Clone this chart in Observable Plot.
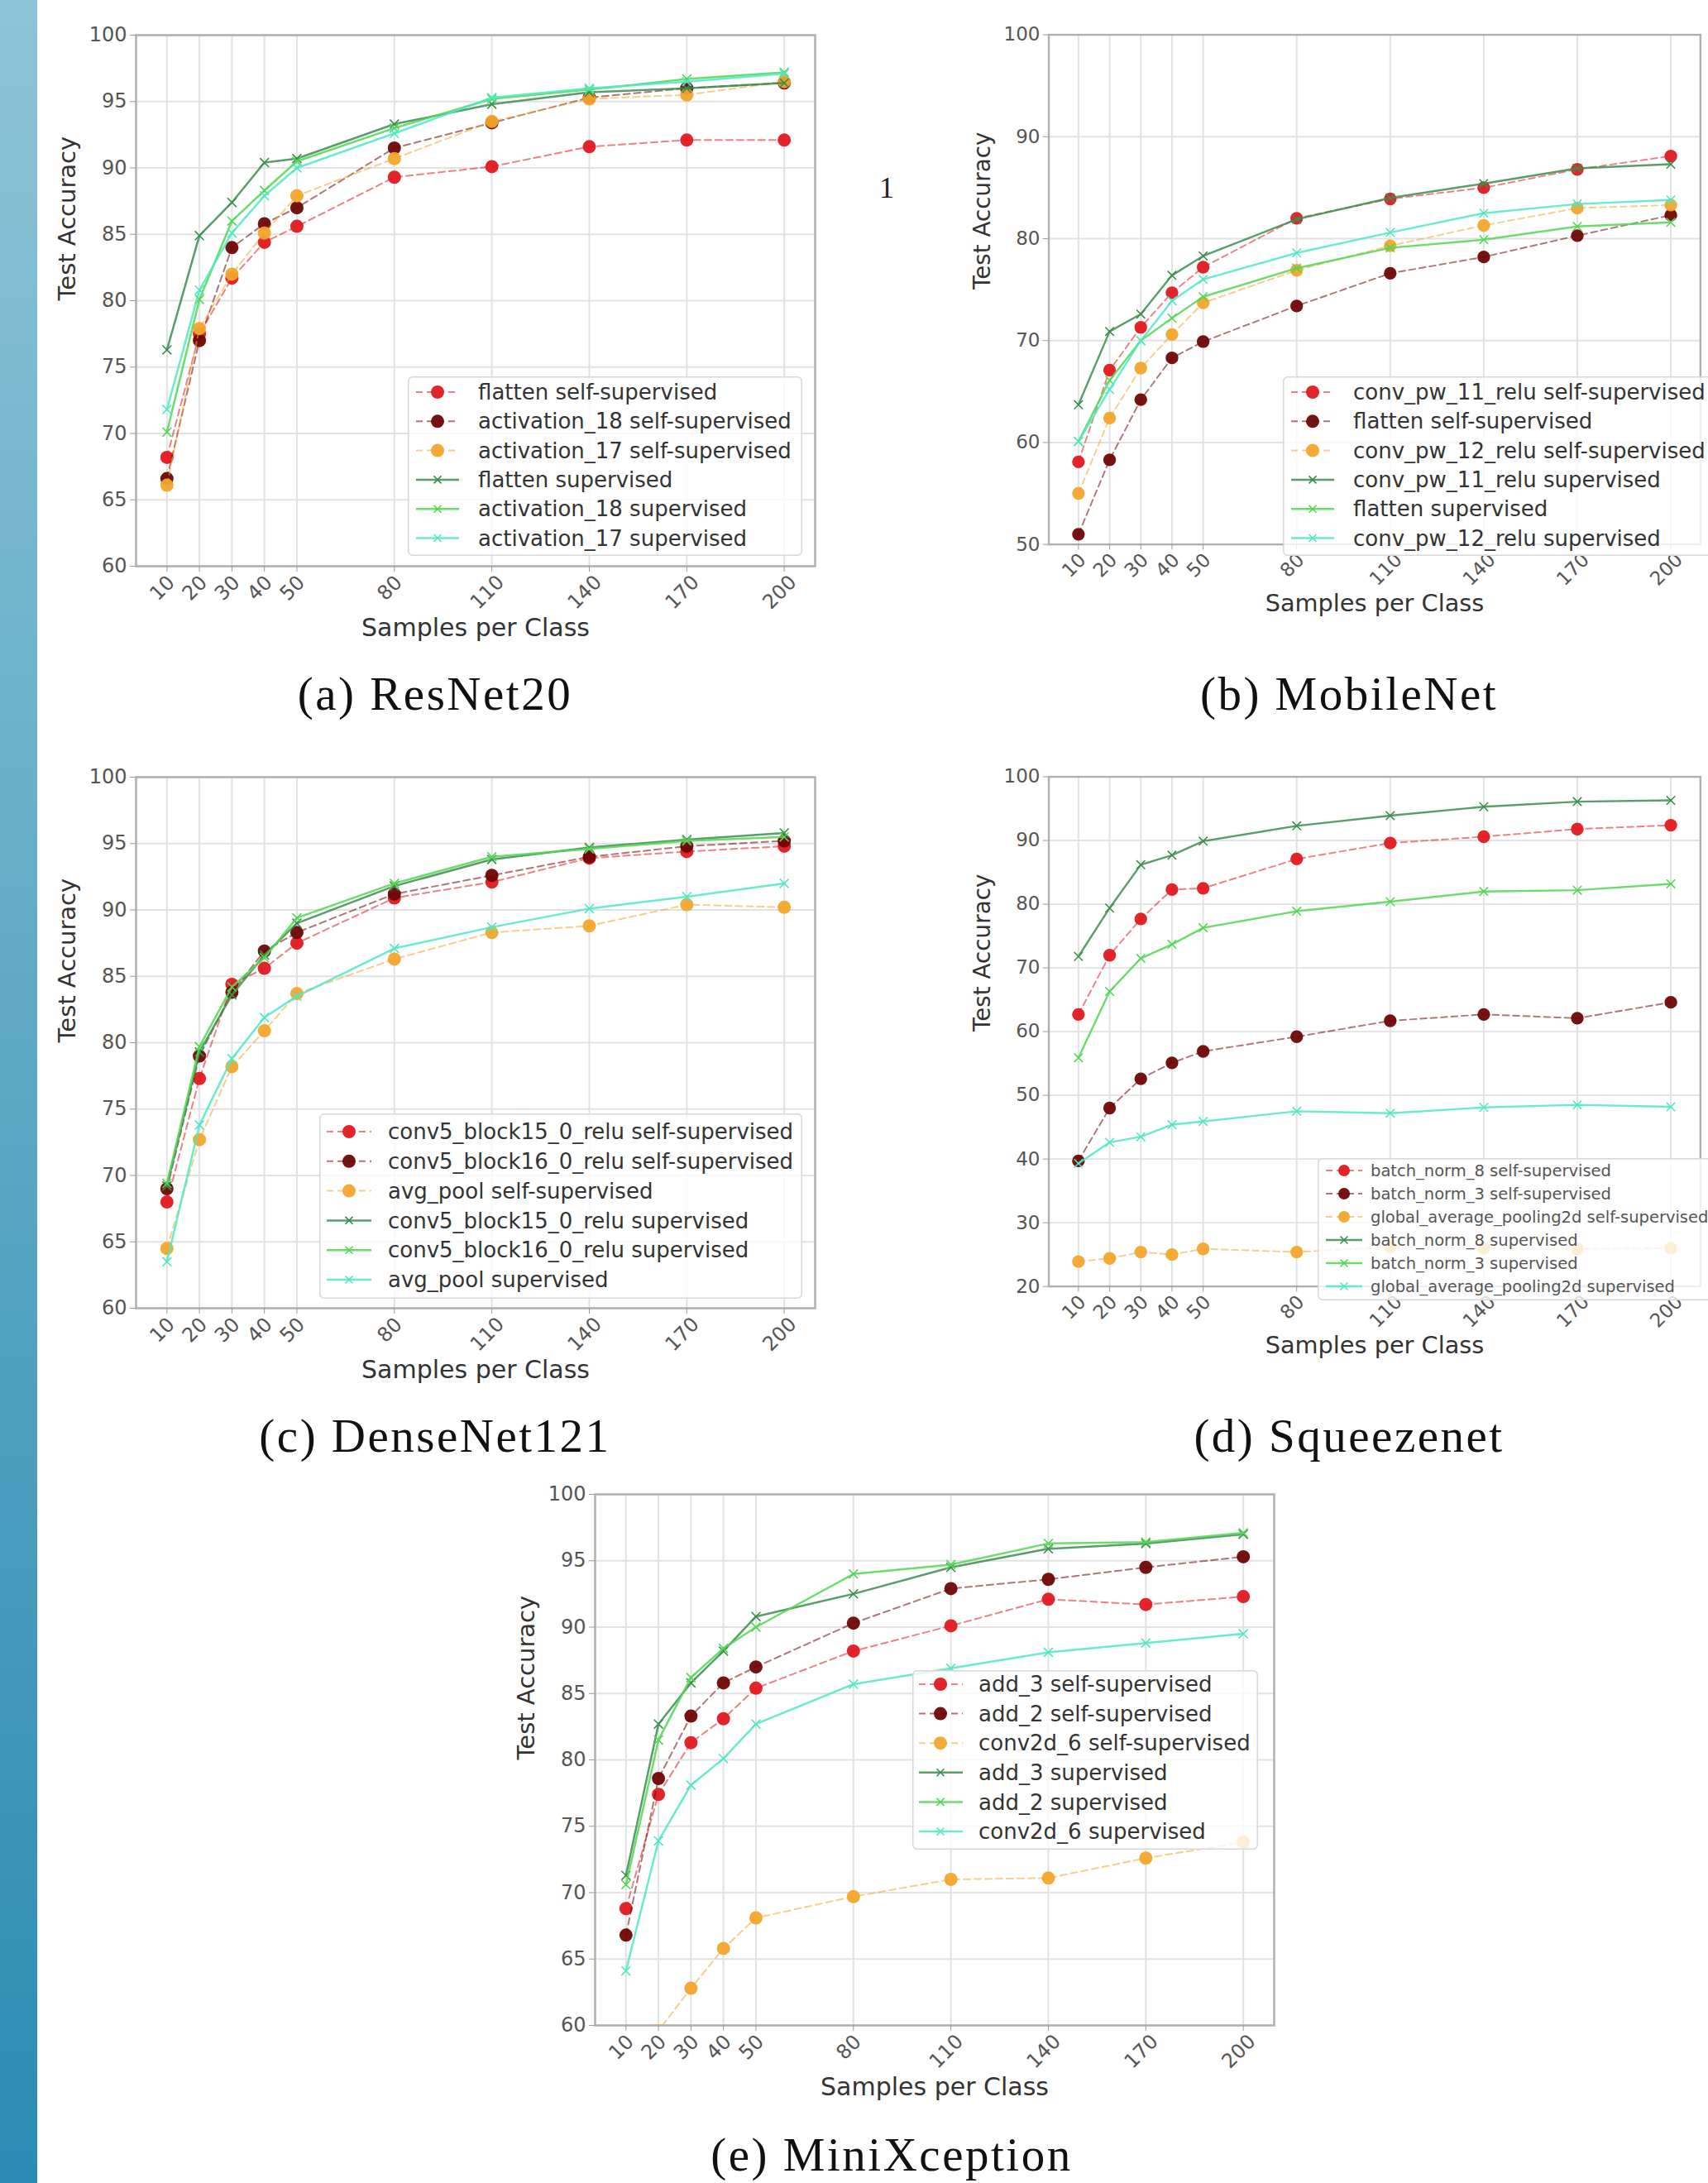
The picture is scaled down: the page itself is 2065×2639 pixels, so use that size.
<!DOCTYPE html>
<html><head><meta charset="utf-8">
<script src="https://cdn.jsdelivr.net/npm/d3@7"></script>
<script src="https://cdn.jsdelivr.net/npm/@observablehq/plot@0.6"></script>
<style>
html,body{margin:0;padding:0;background:#fff;}
#fig{position:relative;width:2065px;height:2639px;overflow:hidden;background:#fff;font-family:"DejaVu Sans",sans-serif;}
.strip{position:absolute;left:0;top:0;width:45px;height:2639px;background:linear-gradient(to bottom,#8dc4d7,#2b8bb2);}
.panel{position:absolute;}
.caption{position:absolute;width:800px;text-align:center;font-family:"Liberation Serif",serif;font-size:57px;letter-spacing:2.5px;line-height:57px;color:#111;white-space:nowrap;}
.pagenum{position:absolute;font-family:"Liberation Serif",serif;font-size:36px;line-height:36px;color:#222;}
</style></head><body><div id="fig"><div class="strip"></div></div>
<script>
// ---------- data ----------
const samples = [10, 20, 30, 40, 50, 80, 110, 140, 170, 200];
const xTickLabels = ["10", "20", "30", "40", "50", "80", "110", "140", "170", "200"];
const yTicks60 = [60, 65, 70, 75, 80, 85, 90, 95, 100];
const yTicks50 = [50, 60, 70, 80, 90, 100];
const yTicks20 = [20, 30, 40, 50, 60, 70, 80, 90, 100];

// (a) ResNet20
const resnetLabels = ["flatten self-supervised", "activation_18 self-supervised", "activation_17 self-supervised",
  "flatten supervised", "activation_18 supervised", "activation_17 supervised"];
const resnetFlattenSelf = [68.2, 77.5, 81.7, 84.4, 85.6, 89.3, 90.1, 91.6, 92.1, 92.1];
const resnetAct18Self = [66.6, 77.0, 84.0, 85.8, 87.0, 91.5, 93.4, 95.3, 96.0, 96.4];
const resnetAct17Self = [66.1, 77.9, 82.0, 85.1, 87.9, 90.7, 93.5, 95.2, 95.5, 96.5];
const resnetFlattenSup = [76.3, 84.9, 87.4, 90.4, 90.7, 93.3, 94.8, 95.7, 96.0, 96.4];
const resnetAct18Sup = [70.1, 80.1, 86.0, 88.3, 90.5, 93.0, 95.2, 95.9, 96.7, 97.2];
const resnetAct17Sup = [71.8, 80.8, 85.1, 87.9, 90.0, 92.6, 95.3, 96.0, 96.5, 97.1];

// (b) MobileNet
const mobileLabels = ["conv_pw_11_relu self-supervised", "flatten self-supervised", "conv_pw_12_relu self-supervised",
  "conv_pw_11_relu supervised", "flatten supervised", "conv_pw_12_relu supervised"];
const mobilePw11Self = [58.1, 67.1, 71.3, 74.7, 77.2, 82.0, 83.9, 85.0, 86.8, 88.1];
const mobileFlattenSelf = [51.0, 58.3, 64.2, 68.3, 69.9, 73.4, 76.6, 78.2, 80.3, 82.3];
const mobilePw12Self = [55.0, 62.4, 67.3, 70.6, 73.7, 76.9, 79.3, 81.3, 83.0, 83.3];
const mobilePw11Sup = [63.7, 70.9, 72.6, 76.4, 78.3, 81.9, 84.0, 85.4, 86.9, 87.3];
const mobileFlattenSup = [60.1, 66.1, 70.0, 72.2, 74.3, 77.1, 79.1, 79.9, 81.2, 81.6];
const mobilePw12Sup = [60.1, 65.2, 70.0, 73.9, 76.0, 78.6, 80.6, 82.5, 83.4, 83.8];

// (c) DenseNet121
const denseLabels = ["conv5_block15_0_relu self-supervised", "conv5_block16_0_relu self-supervised", "avg_pool self-supervised",
  "conv5_block15_0_relu supervised", "conv5_block16_0_relu supervised", "avg_pool supervised"];
const denseB15Self = [68.0, 77.3, 84.4, 85.6, 87.5, 90.9, 92.1, 93.9, 94.4, 94.8];
const denseB16Self = [69.0, 79.0, 83.8, 86.9, 88.3, 91.2, 92.6, 94.0, 94.8, 95.2];
const denseAvgSelf = [64.5, 72.7, 78.2, 80.9, 83.7, 86.3, 88.3, 88.8, 90.4, 90.2];
const denseB15Sup = [69.2, 79.3, 83.6, 86.6, 89.0, 91.8, 93.8, 94.7, 95.3, 95.8];
const denseB16Sup = [69.4, 79.7, 84.2, 86.4, 89.4, 92.0, 94.0, 94.6, 95.2, 95.5];
const denseAvgSup = [63.5, 73.8, 78.8, 81.9, 83.5, 87.1, 88.7, 90.1, 91.0, 92.0];

// (d) Squeezenet
const squeezeLabels = ["batch_norm_8 self-supervised", "batch_norm_3 self-supervised", "global_average_pooling2d self-supervised",
  "batch_norm_8 supervised", "batch_norm_3 supervised", "global_average_pooling2d supervised"];
const squeezeBn8Self = [62.7, 72.0, 77.7, 82.3, 82.5, 87.1, 89.6, 90.6, 91.8, 92.4];
const squeezeBn3Self = [39.7, 48.0, 52.6, 55.1, 56.9, 59.2, 61.7, 62.7, 62.1, 64.6];
const squeezeGapSelf = [23.9, 24.4, 25.4, 25.0, 25.9, 25.4, 26.2, 26.0, 25.9, 26.0];
const squeezeBn8Sup = [71.8, 79.4, 86.2, 87.7, 89.9, 92.3, 93.9, 95.3, 96.1, 96.3];
const squeezeBn3Sup = [55.9, 66.3, 71.5, 73.7, 76.3, 78.9, 80.4, 82.0, 82.2, 83.2];
const squeezeGapSup = [39.3, 42.6, 43.5, 45.4, 45.9, 47.5, 47.2, 48.1, 48.5, 48.2];

// (e) MiniXception
const xceptionLabels = ["add_3 self-supervised", "add_2 self-supervised", "conv2d_6 self-supervised",
  "add_3 supervised", "add_2 supervised", "conv2d_6 supervised"];
const xceptionAdd3Self = [68.8, 77.4, 81.3, 83.1, 85.4, 88.2, 90.1, 92.1, 91.7, 92.3];
const xceptionAdd2Self = [66.8, 78.6, 83.3, 85.8, 87.0, 90.3, 92.9, 93.6, 94.5, 95.3];
const xceptionConvSelf = [55.0, 59.6, 62.8, 65.8, 68.1, 69.7, 71.0, 71.1, 72.6, 73.8];
const xceptionAdd3Sup = [71.3, 82.7, 85.8, 88.2, 90.8, 92.5, 94.5, 95.9, 96.3, 97.0];
const xceptionAdd2Sup = [70.6, 81.5, 86.2, 88.4, 90.0, 94.0, 94.7, 96.3, 96.4, 97.1];
const xceptionConvSup = [64.1, 73.9, 78.1, 80.1, 82.7, 85.7, 86.9, 88.1, 88.8, 89.5];

const captions = ["(a) ResNet20", "(b) MobileNet", "(c) DenseNet121", "(d) Squeezenet", "(e) MiniXception"];
const xLabel = "Samples per Class";
const yLabel = "Test Accuracy";

// ---------- styles ----------
const seriesColors = ["#e0191f", "#6e0505", "#f2a52c", "#3c8d50", "#52d752", "#4fe8c4"];

const panels = [
  {fx: 164, fy: 42, ymin: 60, yTicks: yTicks60, labels: resnetLabels,
   values: [resnetFlattenSelf, resnetAct18Self, resnetAct17Self, resnetFlattenSup, resnetAct18Sup, resnetAct17Sup],
   caption: captions[0], capX: 526, capTop: 810,
   legend: {x: 493, y: 455, w: 477, h: 217, row0: 19, gap: 35.3, fs: 26, h0: 10, h1: 62, mx: 36, tx: 85, color: "#333"}},
  {fx: 1272, fy: 42, ymin: 50, yTicks: yTicks50, labels: mobileLabels,
   values: [mobilePw11Self, mobileFlattenSelf, mobilePw12Self, mobilePw11Sup, mobileFlattenSup, mobilePw12Sup],
   caption: captions[1], capX: 1631, capTop: 810,
   legend: {x: 1551, y: 455, w: 540, h: 217, row0: 19, gap: 35.3, fs: 26, h0: 10, h1: 62, mx: 36, tx: 85, color: "#333"}},
  {fx: 164, fy: 939, ymin: 60, yTicks: yTicks60, labels: denseLabels,
   values: [denseB15Self, denseB16Self, denseAvgSelf, denseB15Sup, denseB16Sup, denseAvgSup],
   caption: captions[2], capX: 526, capTop: 1707,
   legend: {x: 386, y: 1346, w: 584, h: 224, row0: 22, gap: 35.8, fs: 26, h0: 9, h1: 63, mx: 36, tx: 83, color: "#333"}},
  {fx: 1272, fy: 939, ymin: 20, yTicks: yTicks20, labels: squeezeLabels,
   values: [squeezeBn8Self, squeezeBn3Self, squeezeGapSelf, squeezeBn8Sup, squeezeBn3Sup, squeezeGapSup],
   caption: captions[3], capX: 1631, capTop: 1707,
   legend: {x: 1593, y: 1400, w: 520, h: 172, row0: 15, gap: 28, fs: 19.5, h0: 10, h1: 54, mx: 32, tx: 64, color: "#555"}},
  {fx: 719, fy: 1806, ymin: 60, yTicks: yTicks60, labels: xceptionLabels,
   values: [xceptionAdd3Self, xceptionAdd2Self, xceptionConvSelf, xceptionAdd3Sup, xceptionAdd2Sup, xceptionConvSup],
   caption: captions[4], capX: 1078, capTop: 2576,
   legend: {x: 1103, y: 2019, w: 418, h: 217, row0: 17, gap: 35.6, fs: 26, h0: 8, h1: 61, mx: 34, tx: 80, color: "#333"}}
];

const M = {left: 110, top: 10, right: 10, bottom: 110};
const FW = 821, FH = 642;
const fig = document.getElementById("fig");

const xTicks = samples.map((s, i) => ({v: s, label: xTickLabels[i]}));

function buildPanel(p) {
  const marks = [
    Plot.gridX(samples, {stroke: "#e2e2e2", strokeOpacity: 1, strokeWidth: 2}),
    Plot.gridY(p.yTicks, {stroke: "#e2e2e2", strokeOpacity: 1, strokeWidth: 2}),
    Plot.frame({stroke: "#b0b0b0", strokeWidth: 2.5}),
    Plot.axisY(p.yTicks, {tickSize: 7, tickPadding: 4, fontSize: 24, stroke: "#999", fill: "#555", label: null, tickFormat: d => String(d)}),
    Plot.axisX(samples, {tickSize: 7, stroke: "#999", tickFormat: () => "", label: null}),
    Plot.text(xTicks.filter(d => d.label.length < 3), {x: "v", text: "label", frameAnchor: "bottom", dy: 32, rotate: -45, fontSize: 24, fill: "#555"}),
    Plot.text(xTicks.filter(d => d.label.length >= 3), {x: "v", text: "label", frameAnchor: "bottom", dy: 37, rotate: -45, fontSize: 24, fill: "#555"}),
    Plot.text([xLabel], {text: d => d, frameAnchor: "bottom", dy: 84, fontSize: 30, fill: "#333"}),
    Plot.text([yLabel], {text: d => d, frameAnchor: "left", dx: -83, rotate: -90, fontSize: 29, fill: "#333"})
  ];
  p.values.forEach((vals, i) => {
    const rows = vals.map((v, j) => ({x: samples[j], y: v}));
    const c = seriesColors[i];
    if (i < 3) {
      marks.push(Plot.line(rows, {x: "x", y: "y", stroke: c, strokeWidth: 2, strokeOpacity: 0.55, strokeDasharray: "8,5", clip: true}));
      marks.push(Plot.dot(rows, {x: "x", y: "y", r: 8, fill: c, fillOpacity: 0.95, stroke: "none", clip: true}));
    } else {
      marks.push(Plot.line(rows, {x: "x", y: "y", stroke: c, strokeWidth: 2.5, strokeOpacity: 0.85, clip: true}));
      marks.push(Plot.dot(rows, {x: "x", y: "y", symbol: "times", r: 5, stroke: c, strokeWidth: 1.6, clip: true}));
    }
  });
  const svg = Plot.plot({
    width: FW + M.left + M.right, height: FH + M.top + M.bottom,
    marginLeft: M.left, marginRight: M.right, marginTop: M.top, marginBottom: M.bottom,
    x: {domain: [0.5, 209.5]},
    y: {domain: [p.ymin, 100]},
    style: {fontFamily: "DejaVu Sans, sans-serif", background: "transparent", overflow: "visible"},
    marks
  });
  const wrap = document.createElement("div");
  wrap.className = "panel";
  wrap.style.left = (p.fx - M.left) + "px";
  wrap.style.top = (p.fy - M.top) + "px";
  wrap.appendChild(svg);
  fig.appendChild(wrap);

  // legend
  const L = p.legend;
  const lsvg = d3.create("svg").attr("width", L.w).attr("height", L.h)
    .style("position", "absolute").style("left", L.x + "px").style("top", L.y + "px").style("overflow", "visible");
  lsvg.append("rect").attr("x", 0.75).attr("y", 0.75).attr("width", L.w - 1.5).attr("height", L.h - 1.5).attr("rx", 5)
    .attr("fill", "white").attr("fill-opacity", 0.8).attr("stroke", "#d8d8d8").attr("stroke-width", 1.5);
  p.labels.forEach((name, i) => {
    const cy = L.row0 + i * L.gap;
    const c = seriesColors[i];
    const g = lsvg.append("g");
    if (i < 3) {
      g.append("line").attr("x1", L.h0).attr("x2", L.h1).attr("y1", cy).attr("y2", cy)
        .attr("stroke", c).attr("stroke-width", 2).attr("stroke-opacity", 0.55).attr("stroke-dasharray", "8,5");
      g.append("circle").attr("cx", L.mx).attr("cy", cy).attr("r", L.fs < 22 ? 7 : 8).attr("fill", c).attr("fill-opacity", 0.95);
    } else {
      g.append("line").attr("x1", L.h0).attr("x2", L.h1).attr("y1", cy).attr("y2", cy)
        .attr("stroke", c).attr("stroke-width", 2.5).attr("stroke-opacity", 0.85);
      const a = 4.5;
      g.append("path").attr("d", `M${L.mx - a},${cy - a}L${L.mx + a},${cy + a}M${L.mx - a},${cy + a}L${L.mx + a},${cy - a}`)
        .attr("stroke", c).attr("stroke-width", 1.6).attr("fill", "none");
    }
    g.append("text").attr("x", L.tx).attr("y", cy).attr("dy", "0.35em").attr("font-size", L.fs)
      .attr("font-family", "DejaVu Sans, sans-serif").attr("fill", L.color).text(name);
  });
  fig.appendChild(lsvg.node());

  const cap = document.createElement("div");
  cap.className = "caption";
  cap.style.left = (p.capX - 400) + "px";
  cap.style.top = p.capTop + "px";
  cap.textContent = p.caption;
  fig.appendChild(cap);
}

panels.forEach(buildPanel);

const pn = document.createElement("div");
pn.className = "pagenum";
pn.style.left = "1063px";
pn.style.top = "209px";
pn.textContent = "1";
fig.appendChild(pn);
</script></body></html>
